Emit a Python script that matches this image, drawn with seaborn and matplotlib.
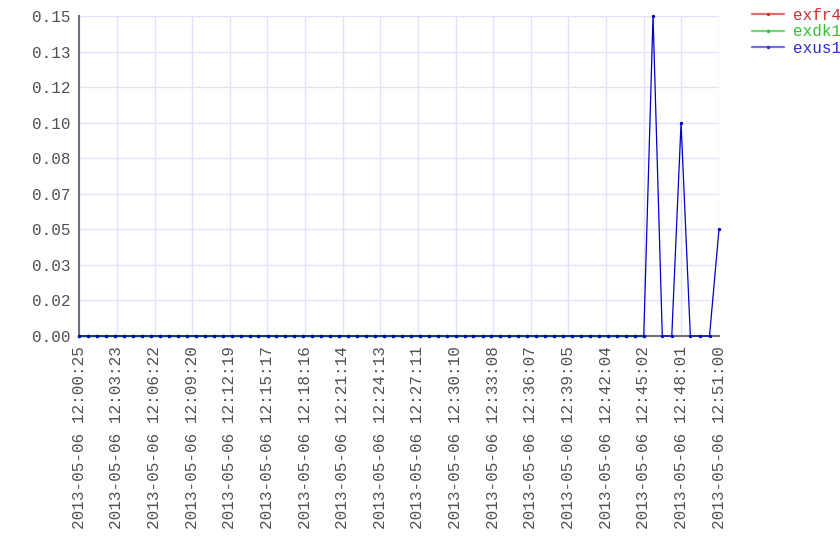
import matplotlib
matplotlib.use("Agg")
import matplotlib.dates as mdates
import matplotlib.pyplot as plt
import numpy as np
import pandas as pd
import seaborn as sns
from matplotlib.lines import Line2D

# Zeitpunkte als Sekunden nach 2013-05-06 12:00:25
start = "2013-05-06 12:00:25"
offsets_s = [
    0, 43, 85, 128, 170, 213, 255, 298, 340, 383, 425, 468, 510, 553, 595, 638,
    680, 723, 765, 808, 850, 893, 935, 978, 1020, 1063, 1105, 1148, 1190, 1233,
    1275, 1318, 1360, 1403, 1445, 1488, 1530, 1573, 1615, 1658, 1700, 1743, 1785,
    1828, 1870, 1913, 1955, 1998, 2040, 2083, 2125, 2168, 2210, 2253, 2295, 2338,
    2380, 2423, 2465, 2508, 2550, 2593, 2635, 2678, 2722, 2766, 2811, 2855, 2899,
    2944, 2990, 3035,
]

# exfr4 / exdk1 enden bei 12:45 (erste 64 Zeitpunkte)
exfr4 = [
    0, 0, 0, 0, 0, 0, 0, 0, 0, 0, 0, 0, 0, 0, 0, 0, 0, 0, 0, 0, 0, 0, 0, 0,
    0, 0, 0, 0, 0, 0, 0, 0, 0, 0, 0, 0, 0, 0, 0, 0, 0, 0, 0, 0, 0, 0, 0, 0,
    0, 0, 0, 0, 0, 0, 0, 0, 0, 0, 0, 0, 0, 0, 0, 0,
]
exdk1 = [
    0, 0, 0, 0, 0, 0, 0, 0, 0, 0, 0, 0, 0, 0, 0, 0, 0, 0, 0, 0, 0, 0, 0, 0,
    0, 0, 0, 0, 0, 0, 0, 0, 0, 0, 0, 0, 0, 0, 0, 0, 0, 0, 0, 0, 0, 0, 0, 0,
    0, 0, 0, 0, 0, 0, 0, 0, 0, 0, 0, 0, 0, 0, 0, 0,
]
exus1 = [
    0, 0, 0, 0, 0, 0, 0, 0, 0, 0, 0, 0, 0, 0, 0, 0, 0, 0, 0, 0, 0, 0, 0, 0,
    0, 0, 0, 0, 0, 0, 0, 0, 0, 0, 0, 0, 0, 0, 0, 0, 0, 0, 0, 0, 0, 0, 0, 0,
    0, 0, 0, 0, 0, 0, 0, 0, 0, 0, 0, 0, 0, 0, 0, 0, 0.15, 0, 0, 0.10, 0, 0, 0, 0.05,
]

series_names = ["exfr4", "exdk1", "exus1"]
series_values = [exfr4, exdk1, exus1]
line_colors = {"exfr4": "#c80000", "exdk1": "#00b400", "exus1": "#0000c8"}
legend_line_colors = ["#e07070", "#70d870", "#7070e0"]
legend_text_colors = ["#d03030", "#30c030", "#3030d0"]
grid_color = "#e2e2fc"
spine_color = "#707078"

times = pd.Timestamp(start) + pd.to_timedelta(offsets_s, unit="s")
df = pd.concat(
    [pd.DataFrame({"zeit": times[: len(v)], "wert": v, "serie": n})
     for n, v in zip(series_names, series_values)],
    ignore_index=True,
)

sns.set_style("white")
plt.rcParams["font.family"] = ["Liberation Mono", "DejaVu Sans Mono"]
plt.rcParams["font.size"] = 11.5

fig = plt.figure(figsize=(8.4, 5.6), dpi=100)
ax = fig.add_axes([79.3 / 840, 1 - 336 / 560, (719 - 79.3) / 840, 320 / 560])

sns.lineplot(
    data=df, x="zeit", y="wert", hue="serie", hue_order=series_names,
    palette=line_colors, marker="o", markersize=2.4, markeredgewidth=0,
    linewidth=0.9, legend=False, ax=ax, clip_on=False, zorder=4,
)

t0, t1 = mdates.date2num(times.min()), mdates.date2num(times.max())
ax.set_xlim(t0, t1)
ax.set_ylim(0, 0.15)
ax.set_xticks(np.linspace(t0, t1, 18))
ax.xaxis.set_major_formatter(mdates.DateFormatter("%Y-%m-%d %H:%M:%S"))
ax.set_yticks(np.linspace(0, 0.15, 10))
ax.yaxis.set_major_formatter(matplotlib.ticker.FormatStrFormatter("%.2f"))
plt.setp(ax.get_xticklabels(), rotation=90, ha="center", va="top")

ax.grid(True, color=grid_color, linewidth=1.0)
ax.set_axisbelow(True)
ax.tick_params(length=3, width=0.9, color=grid_color, labelcolor="#505050", pad=3)
ax.tick_params(axis="x", pad=4)
ax.set_xlabel("")
ax.set_ylabel("")
for side in ("top", "right"):
    ax.spines[side].set_visible(False)
for side in ("left", "bottom"):
    ax.spines[side].set_color(spine_color)
    ax.spines[side].set_linewidth(1.5)
    ax.spines[side].set_zorder(3)

handles = [
    Line2D([], [], color=c, linewidth=1.6, marker="o", markersize=2.4, markeredgewidth=0,
           markerfacecolor=tc)
    for c, tc in zip(legend_line_colors, legend_text_colors)
]
leg = fig.legend(
    handles, series_names, loc="upper left", bbox_to_anchor=(752 / 840, 1 - 8 / 560),
    frameon=False, borderpad=0, borderaxespad=0, handlelength=2.0, handletextpad=0.55,
    labelspacing=0.08,
)
for txt, c in zip(leg.get_texts(), legend_text_colors):
    txt.set_color(c)

fig.savefig("out.png", dpi=100)
